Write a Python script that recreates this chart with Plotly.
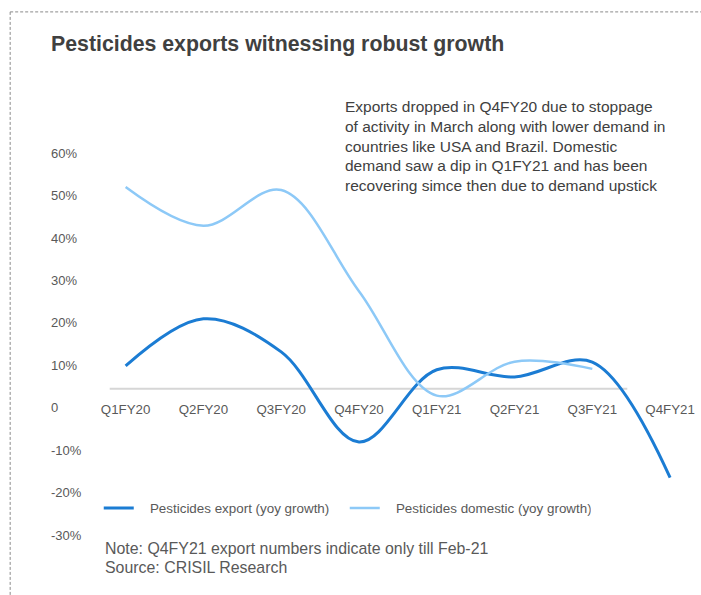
import plotly.graph_objects as go

# Quarterly year-on-year growth (%)
quarters = ["Q1FY20", "Q2FY20", "Q3FY20", "Q4FY20", "Q1FY21", "Q2FY21", "Q3FY21", "Q4FY21"]
export_growth = [5.4, 16.5, 8.7, -12.5, 4.5, 2.8, 6.3, -20.9]
domestic_quarters = quarters[:7]
domestic_growth = [47.5, 38.4, 46.8, 23.0, -1.6, 6.4, 4.7]

y_ticks = [60, 50, 40, 30, 20, 10, 0, -10, -20, -30]
y_ticktext = [f"{v}%" if v != 0 else "0" for v in y_ticks]
Y_MIN, Y_MAX = -37, 60

W, H = 701, 595
L, R, T = 45, 6, 134
PX_PER_UNIT = 4.244
PH = (Y_MAX - Y_MIN) * PX_PER_UNIT
B = H - T - PH
PW = W - L - R


def px_x(px):
    return (px - L) / PW


def px_y(py):
    return (H - B - py) / PH


GAP = "\u00a0\u00a0\u00a0"

fig = go.Figure()
fig.add_trace(go.Scatter(
    x=quarters, y=export_growth, mode="lines",
    name=GAP + "Pesticides export (yoy growth)",
    line=dict(color="#1b7cd3", width=3, shape="spline", smoothing=1.0),
))
fig.add_trace(go.Scatter(
    x=domestic_quarters, y=domestic_growth, mode="lines",
    name=GAP + "Pesticides domestic (yoy growth)",
    line=dict(color="#8dc9f7", width=2.5, shape="spline", smoothing=1.0),
))

# zero baseline
fig.add_shape(type="line", xref="paper", yref="y", x0=0.1, x1=0.9, y0=0, y1=0,
              line=dict(color="#d6d6d6", width=2), layer="below")

# dashed frame
frame = dict(color="#8a8a8a", width=1, dash="3px,2px")
fig.add_shape(type="line", xref="paper", yref="paper",
              x0=px_x(10), x1=px_x(W + 5), y0=px_y(12), y1=px_y(12), line=frame)
fig.add_shape(type="line", xref="paper", yref="paper",
              x0=px_x(10), x1=px_x(10), y0=px_y(12), y1=px_y(H + 5), line=frame)

commentary = [
    "Exports dropped in Q4FY20 due to stoppage",
    "of activity in March along with lower demand in",
    "countries like USA and Brazil. Domestic",
    "demand saw a dip in Q1FY21 and has been",
    "recovering simce then due to demand upstick",
]
for i, line in enumerate(commentary):
    fig.add_annotation(
        xref="paper", yref="paper", x=px_x(344), y=px_y(107 + 19.5 * i),
        xanchor="left", yanchor="middle", align="left", showarrow=False,
        text=line,
        font=dict(family="Liberation Sans, Arial", size=15.5, color="#404040"),
    )

footer = ["Note: Q4FY21 export numbers indicate only till Feb-21", "Source: CRISIL Research"]
for i, line in enumerate(footer):
    fig.add_annotation(
        xref="paper", yref="paper", x=px_x(103), y=px_y(548 + 19 * i),
        xanchor="left", yanchor="middle", align="left", showarrow=False,
        text=line,
        font=dict(family="Liberation Sans, Arial", size=15.9, color="#595959"),
    )

fig.update_layout(
    width=W, height=H,
    margin=dict(l=L, r=R, t=T, b=B),
    paper_bgcolor="white", plot_bgcolor="white",
    font=dict(family="Liberation Sans, Arial", size=13, color="#595959"),
    title=dict(
        text="<b>Pesticides exports witnessing robust growth</b>",
        xref="container", yref="container",
        x=51 / W, xanchor="left", y=1 - 44 / H, yanchor="middle",
        font=dict(family="Liberation Sans, Arial", size=21.3, color="#404040"),
    ),
    showlegend=True,
    legend=dict(
        orientation="h", xref="paper", yref="paper",
        x=px_x(99), y=px_y(508), xanchor="left", yanchor="middle",
        entrywidth=201, entrywidthmode="pixels",
        font=dict(size=13.4, color="#595959"), bgcolor="rgba(0,0,0,0)",
    ),
    xaxis=dict(
        type="category", range=[-1.0366, 7.2816],
        anchor="free", position=-Y_MIN / (Y_MAX - Y_MIN),
        showgrid=False, zeroline=False, showline=False, ticks="",
        ticklabelstandoff=11,
        tickfont=dict(size=13.3, color="#595959"),
    ),
    yaxis=dict(
        range=[Y_MIN, Y_MAX], tickvals=y_ticks, ticktext=y_ticktext,
        showgrid=False, zeroline=False, showline=False, ticks="",
        ticklabelposition="inside", ticklabelstandoff=3, ticklabelshift=19,
        tickfont=dict(size=13, color="#595959"),
    ),
)

fig.write_html("out.html")
